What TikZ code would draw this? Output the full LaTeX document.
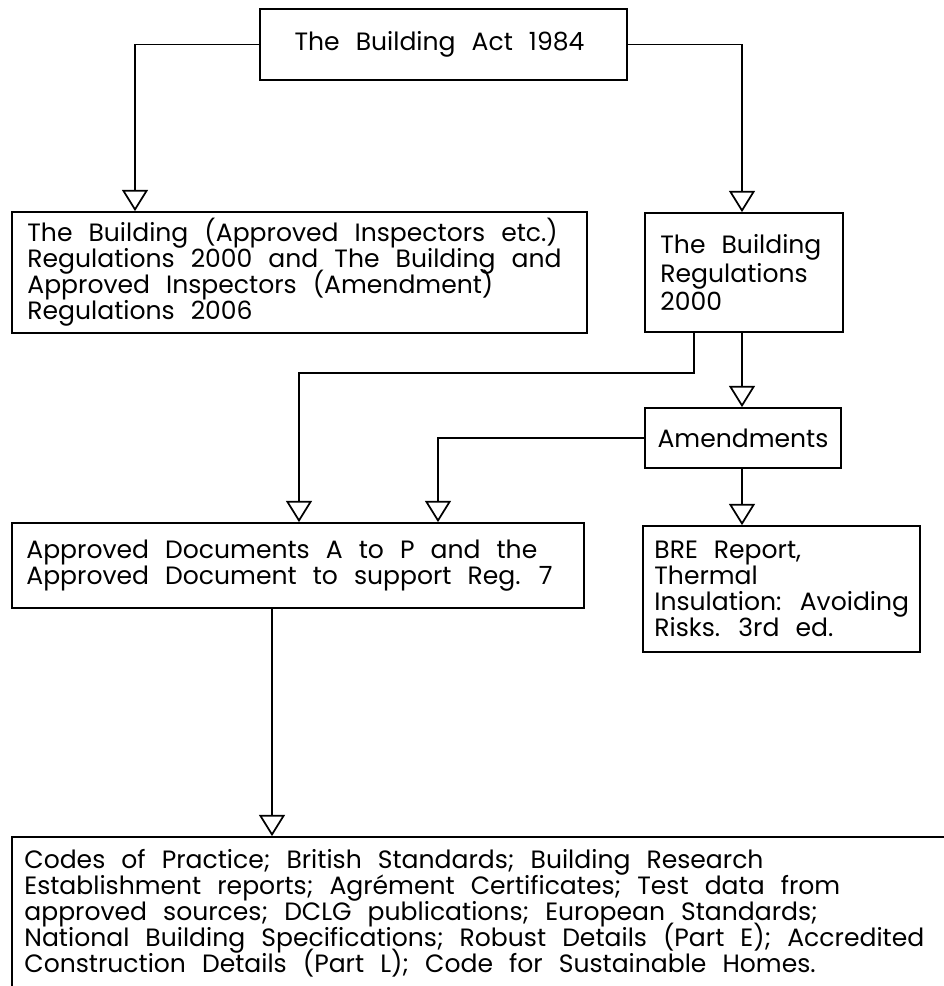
\documentclass[tikz,border=0pt]{standalone}
\usepackage{fontspec}
\setmainfont{Poppins}[WordSpace=2.4]
\usetikzlibrary{arrows.meta}
\lineskiplimit=-100pt\relax

\begin{document}
\begin{tikzpicture}[x=0.75pt, y=-0.75pt,
  box/.style={draw, line width=1.3pt, inner sep=0pt},
  txt/.style={inner sep=0pt, align=left, anchor=west,
    font=\fontsize{18.8pt}{19.5pt}\selectfont},
  flow/.style={line width=1.3pt,
    -{Triangle[width=19.5pt, length=16pt, fill=white, line width=1.3pt]}}]

% page frame
\useasboundingbox (0,0) rectangle (944,986);

% boxes
\node[box, minimum width=275.25pt, minimum height=53.25pt] (act) at (443.5,44.5) {};
\node[box, minimum width=431.25pt, minimum height=90.75pt] (insp) at (299.5,272.5) {};
\node[box, minimum width=148.5pt, minimum height=89.25pt] (regs) at (744,272.5) {};
\node[box, minimum width=147pt, minimum height=45pt] (amend) at (743,438) {};
\node[box, minimum width=429pt, minimum height=63.75pt] (appdoc) at (298,565.5) {};
\node[box, minimum width=207.75pt, minimum height=94.5pt] (bre) at (781.5,589) {};
\node[box, minimum width=711pt, minimum height=114.75pt] (codes) at (486,913.5) {};

% texts
\node[txt, anchor=center] (act-t) at ([xshift=-3pt]act.center) {The Building Act 1984};
\node[txt] (insp-t) at ([xshift=12pt]insp.west)
  {The Building (Approved Inspectors etc.)\\
   Regulations 2000 and The Building and\\
   Approved Inspectors (Amendment)\\
   Regulations 2006};
\node[txt, font=\fontsize{18.8pt}{21.3pt}\selectfont] (regs-t) at ([xshift=12pt]regs.west)
  {The Building\\ Regulations\\ 2000};
\node[txt, anchor=center] (amend-t) at (amend.center) {Amendments};
\node[txt] (appdoc-t) at ([xshift=11.25pt]appdoc.west)
  {Approved Documents A to P and the\\
   Approved Document to support Reg. 7};
\node[txt] (bre-t) at ([xshift=9pt]bre.west)
  {BRE Report,\\ Thermal\\ Insulation: Avoiding\\ Risks. 3rd ed.};
\node[txt] (codes-t) at ([xshift=9.75pt]codes.west)
  {Codes of Practice; British Standards; Building Research\\
   Establishment reports; Agrément Certificates; Test data from\\
   approved sources; DCLG publications; European Standards;\\
   National Building Specifications; Robust Details (Part E); Accredited\\
   Construction Details (Part L); Code for Sustainable Homes.};

% turning points of the connectors
\coordinate (left) at (135,0);
\coordinate (right) at (742,0);
\coordinate (j1) at (299,373);
\coordinate (j2) at (438,0);

% connectors
\draw[flow] (act.west) -| (left |- insp.north);
\draw[flow] (act.east) -| (right |- regs.north);
\draw[flow] ([xshift=-37.5pt]regs.south) |- (j1) -- (j1 |- appdoc.north);
\draw[flow] (right |- regs.south) -- (right |- amend.north);
\draw[flow] (amend.west) -| (j2 |- appdoc.north);
\draw[flow] (right |- amend.south) -- (right |- bre.north);
\draw[flow] ([xshift=-19.5pt]appdoc.south) -- ([xshift=-19.5pt]appdoc.south |- codes.north);
\end{tikzpicture}
\end{document}
